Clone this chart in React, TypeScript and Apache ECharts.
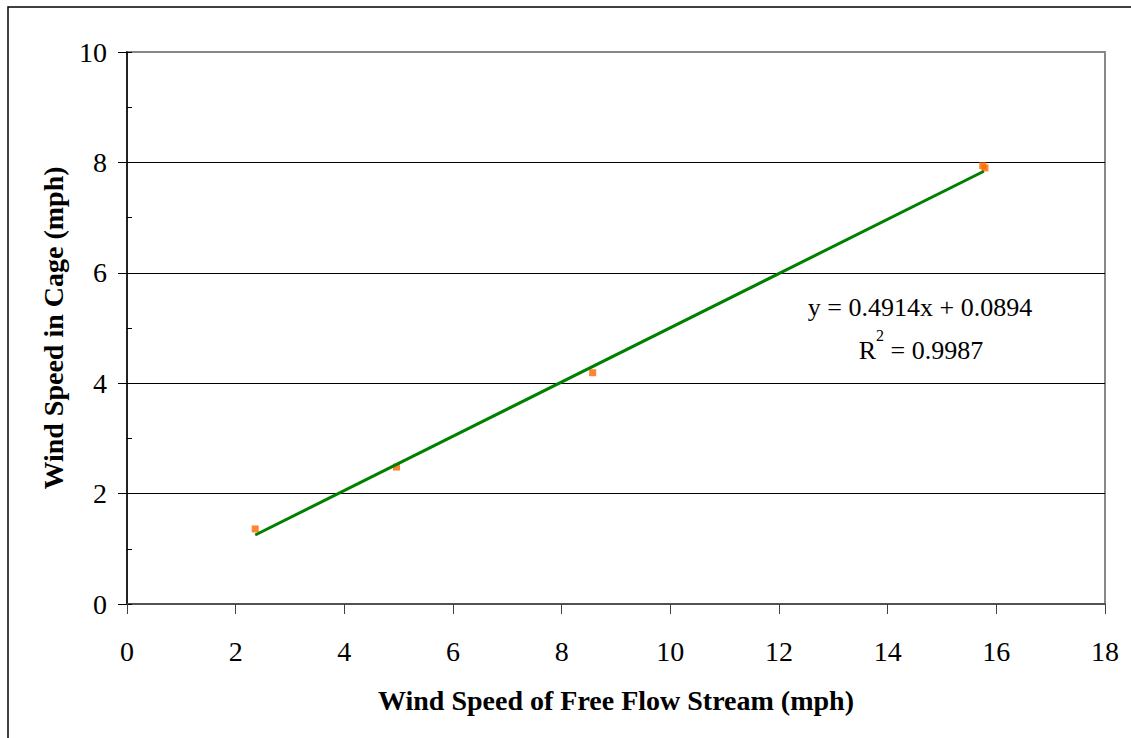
import React, { useEffect, useRef } from "react";
import * as echarts from "echarts";

const xValues = [2.36, 4.96, 8.57, 15.75, 15.79];
const yValues = [1.36, 2.48, 4.19, 7.94, 7.9];
const trendX = [2.36, 15.77];
const trendY = [1.25, 7.84];
const xTicks = [0, 18, 2];
const yTicks = [0, 10, 2];
const equationText = "y = 0.4914x + 0.0894";
const r2Value = "0.9987";
const xTitle = "Wind Speed of Free Flow Stream (mph)";
const yTitle = "Wind Speed in Cage (mph)";

const FONT = "'Liberation Serif', 'Times New Roman', serif";

export default function App() {
  const ref = useRef<HTMLDivElement>(null);
  useEffect(() => {
    if (!ref.current) return;
    const chart = echarts.init(ref.current, undefined, { renderer: "svg" });
    const points = xValues.map((x, i) => [x, yValues[i]]);
    const trend = trendX.map((x, i) => [x, trendY[i]]);
    chart.setOption({
      animation: false,
      backgroundColor: "#fff",
      grid: {
        left: 127,
        top: 52,
        width: 978,
        height: 552,
        show: true,
        borderColor: "#888",
        borderWidth: 2,
        backgroundColor: "transparent",
      },
      xAxis: {
        type: "value",
        min: xTicks[0],
        max: xTicks[1],
        interval: xTicks[2],
        name: xTitle,
        nameLocation: "middle",
        nameGap: 82,
        nameTextStyle: { fontFamily: FONT, fontSize: 28, fontWeight: "bold", color: "#000" },
        axisLine: { show: true, onZero: false, lineStyle: { color: "#404040", width: 1.5 } },
        axisTick: { show: true, inside: false, length: 10, lineStyle: { color: "#404040" } },
        axisLabel: { fontFamily: FONT, fontSize: 28, color: "#000", margin: 33 },
        splitLine: { show: false },
      },
      yAxis: [
        {
          type: "value",
          min: yTicks[0],
          max: yTicks[1],
          interval: yTicks[2],
          name: yTitle,
          nameLocation: "middle",
          nameGap: 60,
          nameRotate: 90,
          nameTextStyle: { fontFamily: FONT, fontSize: 28, fontWeight: "bold", color: "#000" },
          axisLine: { show: true, onZero: false, lineStyle: { color: "#000", width: 1.5 } },
          axisTick: { show: true, inside: false, length: 9, lineStyle: { color: "#000" } },
          axisLabel: { fontFamily: FONT, fontSize: 28, color: "#000", margin: 20 },
          splitLine: { show: true, showMinLine: false, showMaxLine: false, lineStyle: { color: "#000", width: 1 } },
        },
        {
          type: "value",
          min: yTicks[0],
          max: yTicks[1],
          interval: 1,
          position: "left",
          axisLine: { show: false },
          axisTick: { show: true, inside: true, length: 5, lineStyle: { color: "#000" } },
          axisLabel: { show: false },
          splitLine: { show: false },
        },
      ],
      series: [
        {
          type: "line",
          data: trend,
          yAxisIndex: 0,
          symbol: "none",
          lineStyle: { color: "#008000", width: 3 },
          z: 3,
        },
        {
          type: "scatter",
          data: points,
          yAxisIndex: 0,
          symbol: "rect",
          symbolSize: 7,
          itemStyle: { color: "#FF6600" },
          z: 2,
        },
      ],
      graphic: [
        {
          type: "rect",
          shape: { x: 8, y: 7, width: 1300, height: 900 },
          style: { fill: "none", stroke: "#000", lineWidth: 1.5 },
          silent: true,
        },
        {
          type: "text",
          x: 920,
          y: 307,
          style: {
            text: equationText,
            fontFamily: FONT,
            fontSize: 26,
            fill: "#000",
            align: "center",
            verticalAlign: "middle",
          },
        },
        {
          type: "text",
          x: 921,
          y: 350,
          style: {
            text: "{n|R}{s|2}{n| = " + r2Value + "}",
            fontFamily: FONT,
            fontSize: 26,
            fill: "#000",
            align: "center",
            verticalAlign: "middle",
            rich: {
              n: { fontFamily: FONT, fontSize: 26, lineHeight: 46, fill: "#000" },
              s: { fontFamily: FONT, fontSize: 16, lineHeight: 16, verticalAlign: "top", fill: "#000" },
            },
          },
        },
      ],
    });
    return () => chart.dispose();
  }, []);
  return (
    <div
      ref={ref}
      style={{ position: "fixed", left: 0, top: 0, width: 1131, height: 738, background: "#fff" }}
    />
  );
}
